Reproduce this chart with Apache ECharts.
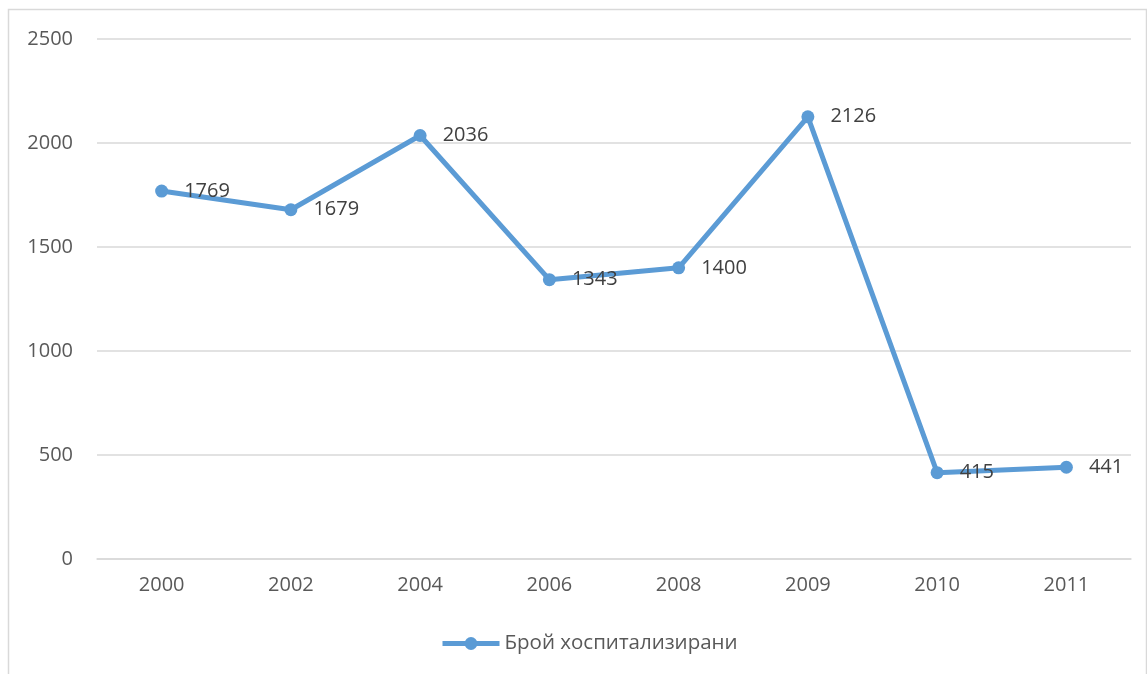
<!DOCTYPE html>
<html><head><meta charset="utf-8">
<script src="https://cdn.jsdelivr.net/npm/echarts@6/dist/echarts.min.js"></script>
<style>html,body{margin:0;padding:0;background:#fff}#c{width:1147px;height:674px}</style>
</head><body><div id="c"></div>
<script>
const categories = ['2000','2002','2004','2006','2008','2009','2010','2011'];
const values = [1769,1679,2036,1343,1400,2126,415,441];
const seriesName = 'Брой хоспитализирани';
const yTicks = [0,500,1000,1500,2000,2500];

const chart = echarts.init(document.getElementById('c'), null, {renderer:'canvas'});
const font = '"Open Sans", "Noto Sans", sans-serif';
chart.setOption({
  animation:false,
  textStyle:{fontFamily:font},
  graphic:[{type:'rect',shape:{x:8.5,y:9.5,width:1138,height:700},style:{fill:'none',stroke:'#d9d9d9',lineWidth:1.5},silent:true}],
  grid:{left:97,right:16,top:39,bottom:115,containLabel:false},
  legend:{top:633,left:440,padding:0,itemWidth:57,itemHeight:16,itemGap:10,
    lineStyle:{width:5,color:'#5b9bd5'},
    textStyle:{color:'#595959',fontSize:20.5,fontFamily:font,padding:[0,0,0,0]},data:[seriesName]},
  xAxis:{type:'category',data:categories,boundaryGap:true,
    axisLine:{lineStyle:{color:'#d9d9d9',width:1.5}},axisTick:{show:false},
    axisLabel:{color:'#595959',fontSize:20,margin:16,fontFamily:font}},
  yAxis:{type:'value',min:yTicks[0],max:yTicks[yTicks.length-1],interval:500,
    axisLine:{show:false},axisTick:{show:false},
    splitLine:{lineStyle:{color:'#d9d9d9',width:1.5}},
    axisLabel:{color:'#595959',fontSize:20,margin:24,fontFamily:font,formatter:v=>String(v)}},
  series:[{name:seriesName,type:'line',data:values,
    lineStyle:{color:'#5b9bd5',width:5},itemStyle:{color:'#5b9bd5'},
    symbol:'circle',symbolSize:13,
    label:{show:true,position:'right',distance:16,color:'#404040',fontSize:20,fontFamily:font}}]
});
</script></body></html>
